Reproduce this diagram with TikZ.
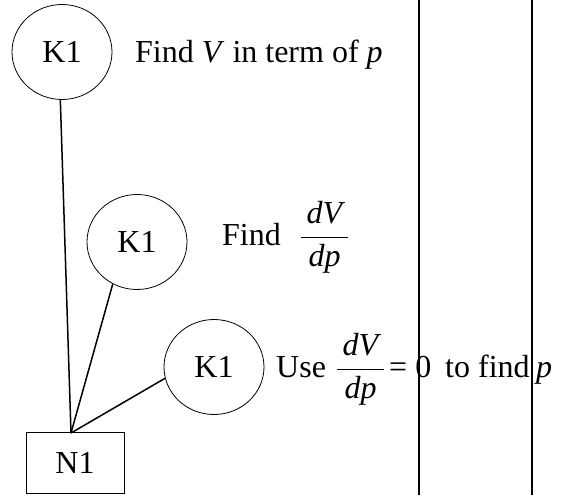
\RequirePackage{fix-cm}
\documentclass[tikz,border=0pt]{standalone}
\usepackage{fontspec}
\setmainfont{Liberation Serif}
\usetikzlibrary{shapes.geometric}
\tikzset{
  kcircle/.style={draw, ellipse, line width=0.8pt, minimum width=100pt, minimum height=95pt, inner sep=0pt},
  nbox/.style={draw, rectangle, line width=1pt, minimum width=98pt, minimum height=61pt, inner sep=0pt},
  txt/.style={anchor=base west, inner sep=0pt},
  fracnode/.style={anchor=base, inner sep=0pt},
  link/.style={line width=1.5pt},
  colrule/.style={line width=2pt}
}
\begin{document}
\begin{tikzpicture}[x=1pt, y=-1pt, font=\fontsize{32}{38}\selectfont]
    \useasboundingbox (0,0) rectangle (561,495);
    % column lines
    \coordinate (c1top) at (419,0);
    \coordinate (c1bot) at (419,495);
    \coordinate (c2top) at (532,0);
    \coordinate (c2bot) at (532,495);
    \draw [colrule] (c1top) -- (c1bot);
    \draw [colrule] (c2top) -- (c2bot);
    % marks
    \node [kcircle] (k1) at (62,52) {K1};
    \node [kcircle] (k2) at (137,242) {K1};
    \node [kcircle] (k3) at (214,367) {K1};
    \node [nbox] (n1) at (75,462.5) {N1};
    \coordinate (join) at (71,433);
    \draw [link] (k1.268) -- (join);
    \draw [link] (k2.240) -- (join);
    \draw [link] (k3.193) -- (join);
    % working
    \node [txt] (t1) at (135,63) {Find \textit{V} in term of \textit{p}};
    \node [txt] (t2) at (222,245) {Find};
    \node [fracnode] (f2) at (324.5,245) {$\displaystyle\frac{\,\textit{dV}\,}{\,\textit{dp}\,}$};
    \node [txt] (t3) at (276,377) {Use};
    \node [fracnode] (f3) at (360.5,377) {$\displaystyle\frac{\,\textit{dV}\,}{\,\textit{dp}\,}$};
    \node [txt] (t4) at (389,377) {= 0};
    \node [txt] (t5) at (445,377) {to find};
    \node [txt] (t6) at (536,377) {\textit{p}};
\end{tikzpicture}
\end{document}
